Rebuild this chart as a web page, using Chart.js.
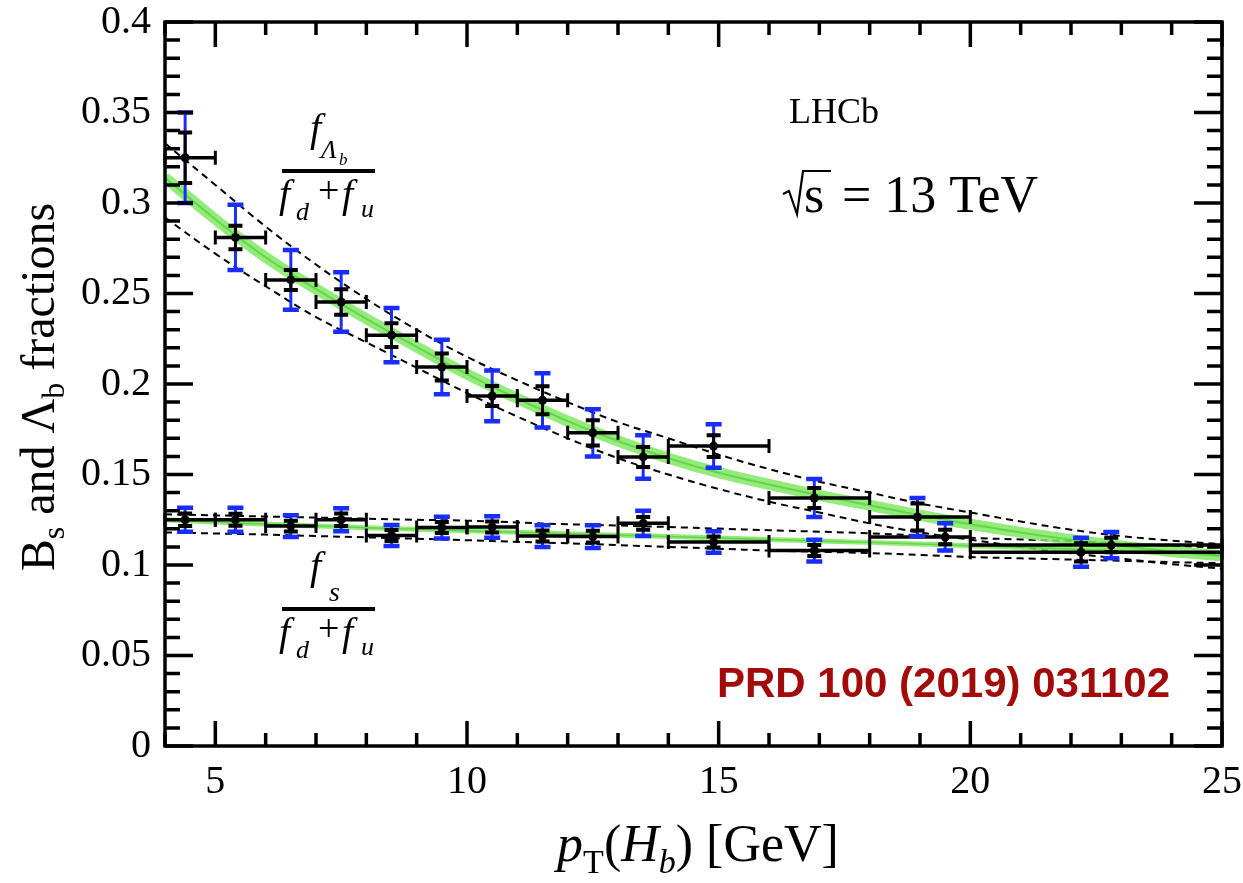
<!DOCTYPE html>
<html>
<head>
<meta charset="utf-8">
<script src="https://cdn.jsdelivr.net/npm/chart.js@4.4.1/dist/chart.umd.min.js"></script>
<style>
html, body { margin: 0; padding: 0; background: #fff; }
#wrap { width: 1243px; height: 883px; }
</style>
</head>
<body>
<div id="wrap"><canvas id="chart" width="1243" height="883"></canvas></div>
<script>
// ---- values ----
const xTicks = [5, 10, 15, 20, 25];
const yTicks = [0, 0.05, 0.1, 0.15, 0.2, 0.25, 0.3, 0.35, 0.4];
const yTickLabels = ['0', '0.05', '0.1', '0.15', '0.2', '0.25', '0.3', '0.35', '0.4'];

// pT bins (GeV)
const binLow  = [4, 5, 6, 7, 8, 9, 10, 11, 12, 13, 14, 16, 18, 20];
const binHigh = [5, 6, 7, 8, 9, 10, 11, 12, 13, 14, 16, 18, 20, 25];

// f_Lambda_b / (f_d + f_u)
const lambdaPt    = [4.4, 5.4, 6.5, 7.5, 8.5, 9.5, 10.5, 11.5, 12.5, 13.5, 14.9, 16.9, 18.95, 22.2];
const lambdaFrac  = [0.325, 0.281, 0.2575, 0.2453, 0.227, 0.2094, 0.1934, 0.191, 0.173, 0.1597, 0.1657, 0.137, 0.1265, 0.107];
const lambdaStat  = [0.014, 0.0065, 0.0055, 0.007, 0.0066, 0.0075, 0.0055, 0.0077, 0.007, 0.0055, 0.006, 0.0055, 0.0075, 0.005];
const lambdaTotal = [0.025, 0.018, 0.0165, 0.0165, 0.015, 0.015, 0.014, 0.015, 0.013, 0.012, 0.012, 0.0105, 0.0105, 0.008];

// f_s / (f_d + f_u)
const fsPt    = [4.4, 5.4, 6.5, 7.5, 8.5, 9.5, 10.5, 11.5, 12.5, 13.5, 14.9, 16.9, 19.5, 22.8];
const fsFrac  = [0.125, 0.125, 0.1215, 0.125, 0.1163, 0.1207, 0.121, 0.116, 0.1157, 0.123, 0.1127, 0.108, 0.1155, 0.111];
const fsStat  = [0.0035, 0.0033, 0.003, 0.0035, 0.003, 0.003, 0.003, 0.003, 0.0032, 0.0035, 0.003, 0.003, 0.004, 0.004];
const fsTotal = [0.0066, 0.0066, 0.006, 0.0063, 0.0058, 0.006, 0.006, 0.006, 0.0063, 0.007, 0.006, 0.006, 0.0075, 0.0073];

// fitted curves and their uncertainty envelopes
const fitPt         = [4, 5, 6, 7, 8, 9, 10, 11, 12, 13, 14, 15, 16, 17, 18, 19, 20, 21, 22, 23, 24, 25];
const lambdaFit     = [0.314, 0.291, 0.270, 0.2525, 0.236, 0.2205, 0.2055, 0.192, 0.1795, 0.1685, 0.159, 0.151, 0.1445, 0.1385, 0.133, 0.1275, 0.1225, 0.118, 0.114, 0.1105, 0.1075, 0.105];
const lambdaFitHigh = [0.333, 0.310, 0.287, 0.266, 0.247, 0.230, 0.215, 0.202, 0.190, 0.179, 0.170, 0.161, 0.153, 0.146, 0.140, 0.134, 0.129, 0.124, 0.1195, 0.116, 0.1135, 0.1115];
const lambdaFitLow  = [0.292, 0.272, 0.254, 0.237, 0.223, 0.209, 0.195, 0.182, 0.170, 0.159, 0.150, 0.142, 0.135, 0.129, 0.123, 0.118, 0.114, 0.110, 0.1065, 0.1035, 0.1005, 0.098];
const fsFit         = [0.125, 0.1237, 0.1226, 0.1216, 0.1206, 0.1197, 0.1189, 0.1181, 0.1173, 0.1165, 0.1157, 0.1149, 0.1141, 0.1133, 0.1125, 0.1116, 0.1107, 0.1098, 0.1088, 0.1078, 0.1068, 0.1058];
const fsFitHigh     = [0.128, 0.1274, 0.1268, 0.1262, 0.1256, 0.125, 0.1245, 0.1235, 0.1225, 0.1218, 0.121, 0.1201, 0.1192, 0.1184, 0.1175, 0.1163, 0.115, 0.1141, 0.1132, 0.1119, 0.1107, 0.1095];
const fsFitLow      = [0.118, 0.1174, 0.1168, 0.116, 0.1153, 0.1145, 0.1137, 0.1128, 0.112, 0.111, 0.110, 0.109, 0.108, 0.1073, 0.1066, 0.1055, 0.1044, 0.1037, 0.103, 0.1023, 0.1016, 0.101];

const SERIF = '"Liberation Serif", "DejaVu Serif", serif';
const BLUE = 'rgb(25, 45, 255)';

function pts(xs, ys) {
    return xs.map((x, i) => ({ x: x, y: ys[i] }));
}

function curve(label, ys, color, width, dash) {
    return {
        type: 'line',
        label: label,
        data: pts(fitPt, ys),
        borderColor: color,
        borderWidth: width,
        borderDash: dash || [],
        pointRadius: 0,
        tension: 0.4,
        fill: false
    };
}

function points(label, xs, ys, stat, total) {
    return {
        type: 'scatter',
        label: label,
        data: pts(xs, ys),
        pointRadius: 4.5,
        pointBackgroundColor: '#000',
        pointBorderWidth: 0,
        errStat: stat,
        errTotal: total
    };
}

// draw x-bin bars, total (blue) and stat (black) error bars for a points dataset
const errorBars = {
    id: 'errorBars',
    beforeDatasetDraw(chart, args) {
        const ds = chart.data.datasets[args.index];
        if (!ds.errTotal) return;
        const ctx = chart.ctx;
        const xs = chart.scales.x, ys = chart.scales.y;
        ctx.save();
        ds.data.forEach((p, i) => {
            const px = xs.getPixelForValue(p.x);
            const py = ys.getPixelForValue(p.y);
            const tHi = ys.getPixelForValue(p.y + ds.errTotal[i]);
            const tLo = ys.getPixelForValue(p.y - ds.errTotal[i]);
            const sHi = ys.getPixelForValue(p.y + ds.errStat[i]);
            const sLo = ys.getPixelForValue(p.y - ds.errStat[i]);
            const xl = xs.getPixelForValue(binLow[i]);
            const xr = xs.getPixelForValue(binHigh[i]);

            // total uncertainty
            ctx.strokeStyle = BLUE;
            ctx.lineWidth = 3;
            ctx.beginPath();
            ctx.moveTo(px, tHi); ctx.lineTo(px, tLo);
            ctx.stroke();
            ctx.lineWidth = 4.5;
            ctx.beginPath();
            ctx.moveTo(px - 8, tHi); ctx.lineTo(px + 8, tHi);
            ctx.moveTo(px - 8, tLo); ctx.lineTo(px + 8, tLo);
            ctx.stroke();

            // bin width
            ctx.strokeStyle = '#000';
            ctx.lineWidth = 3.5;
            ctx.beginPath();
            ctx.moveTo(xl, py); ctx.lineTo(xr, py);
            ctx.stroke();
            ctx.lineWidth = 3;
            ctx.beginPath();
            ctx.moveTo(xl, py - 7); ctx.lineTo(xl, py + 7);
            ctx.moveTo(xr, py - 7); ctx.lineTo(xr, py + 7);
            ctx.stroke();

            // statistical uncertainty
            ctx.lineWidth = 3;
            ctx.beginPath();
            ctx.moveTo(px, sHi); ctx.lineTo(px, sLo);
            ctx.stroke();
            ctx.lineWidth = 4;
            ctx.beginPath();
            ctx.moveTo(px - 7, sHi); ctx.lineTo(px + 7, sHi);
            ctx.moveTo(px - 7, sLo); ctx.lineTo(px + 7, sLo);
            ctx.stroke();
        });
        ctx.restore();
    }
};

function textRuns(ctx, x, y, parts) {
    parts.forEach(([t, font, dy]) => {
        ctx.font = font;
        ctx.fillText(t, x, y + (dy || 0));
        x += ctx.measureText(t).width;
    });
    return x;
}

function runsWidth(ctx, parts) {
    let w = 0;
    parts.forEach(([t, font]) => { ctx.font = font; w += ctx.measureText(t).width; });
    return w;
}

function fraction(ctx, num, barY) {
    ctx.font = 'italic 40px ' + SERIF;
    ctx.fillText('f', 310, barY - 30);
    num(barY);
    ctx.fillRect(282, barY - 2, 93, 4);
    ctx.font = 'italic 40px ' + SERIF;
    ctx.fillText('f', 279, barY + 36);
    ctx.font = 'italic 26px ' + SERIF;
    ctx.fillText('d', 296, barY + 49);
    ctx.font = '38px ' + SERIF;
    ctx.fillText('+', 318, barY + 32);
    ctx.font = 'italic 40px ' + SERIF;
    ctx.fillText('f', 342, barY + 36);
    ctx.font = 'italic 26px ' + SERIF;
    ctx.fillText('u', 361, barY + 46);
}

// frame with inward ticks, axis titles and annotations
const decorations = {
    id: 'decorations',
    afterDraw(chart) {
        const ctx = chart.ctx;
        const a = chart.chartArea;
        const xs = chart.scales.x, ys = chart.scales.y;
        ctx.save();
        ctx.strokeStyle = '#000';
        ctx.fillStyle = '#000';

        // ticks
        ctx.lineWidth = 3.5;
        ctx.beginPath();
        for (let v = 0; v <= 40; v++) {
            const py = ys.getPixelForValue(v / 100);
            const len = v % 5 === 0 ? 28 : 15;
            ctx.moveTo(a.left, py); ctx.lineTo(a.left + len, py);
            ctx.moveTo(a.right, py); ctx.lineTo(a.right - len, py);
        }
        for (let v = 4; v <= 25; v++) {
            const px = xs.getPixelForValue(v);
            const len = v % 5 === 0 ? 25 : 13;
            ctx.moveTo(px, a.bottom); ctx.lineTo(px, a.bottom - len);
            ctx.moveTo(px, a.top); ctx.lineTo(px, a.top + len);
        }
        ctx.stroke();

        // frame
        ctx.lineWidth = 3.5;
        ctx.strokeRect(a.left, a.top, a.right - a.left, a.bottom - a.top);

        // y title
        const yParts = [
            ['B', '48px ' + SERIF],
            ['s', '32px ' + SERIF, 10],
            [' and \u039B', '48px ' + SERIF],
            ['b', '32px ' + SERIF, 10],
            [' fractions', '48px ' + SERIF]
        ];
        ctx.save();
        ctx.translate(54, 387);
        ctx.rotate(-Math.PI / 2);
        ctx.textAlign = 'left';
        ctx.textBaseline = 'alphabetic';
        textRuns(ctx, -runsWidth(ctx, yParts) / 2, 0, yParts);
        ctx.restore();

        // x title
        const xParts = [
            ['p', 'italic 52px ' + SERIF],
            ['T', '34px ' + SERIF, 12],
            ['(', '52px ' + SERIF],
            ['H', 'italic 52px ' + SERIF],
            ['b', 'italic 34px ' + SERIF, 12],
            [') [GeV]', '52px ' + SERIF]
        ];
        ctx.textAlign = 'left';
        ctx.textBaseline = 'alphabetic';
        textRuns(ctx, 698 - runsWidth(ctx, xParts) / 2, 861, xParts);

        // LHCb label and energy
        ctx.font = '36px ' + SERIF;
        ctx.fillText('LHCb', 789, 123);
        ctx.lineWidth = 2.2;
        ctx.beginPath();
        ctx.moveTo(783, 194); ctx.lineTo(789, 191); ctx.lineTo(797, 214);
        ctx.lineTo(803, 171); ctx.lineTo(831, 171);
        ctx.stroke();
        ctx.font = '52px ' + SERIF;
        ctx.fillText('s', 804, 212);
        ctx.fillText('= 13 TeV', 842, 212);

        // fraction labels
        fraction(ctx, (b) => {
            ctx.font = 'italic 26px ' + SERIF;
            ctx.fillText('\u039B', 321, b - 13);
            ctx.font = 'italic 17px ' + SERIF;
            ctx.fillText('b', 339, b - 6);
        }, 171);
        fraction(ctx, (b) => {
            ctx.font = 'italic 28px ' + SERIF;
            ctx.fillText('s', 329, b - 8);
        }, 609);

        // reference
        ctx.fillStyle = '#a30a0a';
        ctx.font = 'bold 42px "Liberation Sans", Arial, sans-serif';
        ctx.fillText('PRD 100 (2019) 031102', 717, 697);

        ctx.restore();
    }
};

const ctx = document.getElementById('chart').getContext('2d');
new Chart(ctx, {
    data: {
        datasets: [
            points('fLb', lambdaPt, lambdaFrac, lambdaStat, lambdaTotal),
            points('fs', fsPt, fsFrac, fsStat, fsTotal),
            curve('Lb fit', lambdaFit, 'rgba(70, 200, 45, 0.6)', 2),
            curve('fs fit', fsFit, 'rgba(70, 200, 45, 0.6)', 1.5),
            curve('Lb band', lambdaFit, 'rgba(128, 232, 98, 0.85)', 11),
            curve('fs band', fsFit, 'rgba(128, 232, 98, 0.85)', 5),
            curve('Lb high', lambdaFitHigh, '#000', 2, [7, 5]),
            curve('Lb low', lambdaFitLow, '#000', 2, [7, 5]),
            curve('fs high', fsFitHigh, '#000', 2, [7, 5]),
            curve('fs low', fsFitLow, '#000', 2, [7, 5])
        ]
    },
    options: {
        responsive: false,
        animation: false,
        layout: { padding: { top: 22, right: 21, left: 0, bottom: 0 } },
        plugins: {
            legend: { display: false },
            tooltip: { enabled: false }
        },
        scales: {
            x: {
                type: 'linear',
                min: 4,
                max: 25,
                grid: { display: false },
                border: { display: false },
                afterBuildTicks: s => { s.ticks = xTicks.map(v => ({ value: v })); },
                afterFit: s => { s.height = 137; s.paddingLeft = 0; s.paddingRight = 0; },
                ticks: {
                    color: '#000',
                    padding: 8,
                    maxRotation: 0,
                    autoSkip: false,
                    font: { family: SERIF, size: 40, lineHeight: 1 }
                }
            },
            y: {
                type: 'linear',
                min: 0,
                max: 0.4,
                grid: { display: false },
                border: { display: false },
                afterBuildTicks: s => { s.ticks = yTicks.map(v => ({ value: v })); },
                afterFit: s => { s.width = 165; s.paddingTop = 0; s.paddingBottom = 0; },
                ticks: {
                    color: '#000',
                    padding: 6,
                    autoSkip: false,
                    font: { family: SERIF, size: 40, lineHeight: 1 },
                    callback: v => yTickLabels[yTicks.findIndex(t => Math.abs(t - v) < 1e-9)]
                }
            }
        }
    },
    plugins: [errorBars, decorations]
});
</script>
</body>
</html>
